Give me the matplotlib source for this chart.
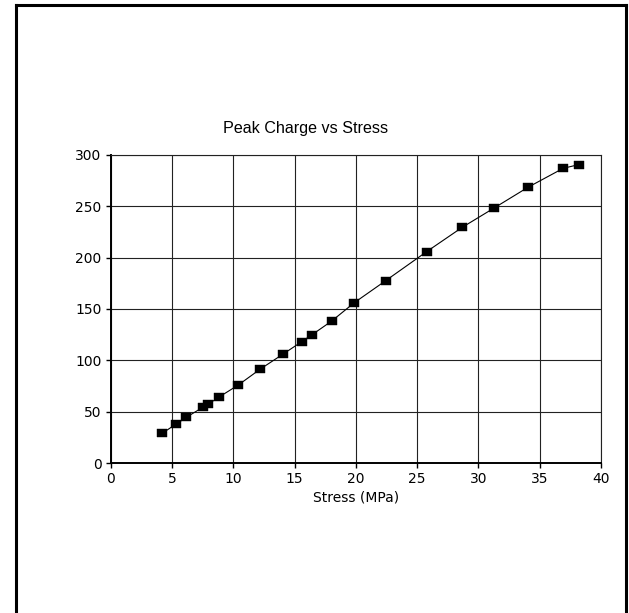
import numpy as np
import matplotlib.pyplot as plt
from matplotlib.lines import Line2D

# stress (MPa) vs peak charge
stress = [4.21, 5.30, 6.17, 7.55, 7.94, 8.81, 10.41, 12.18, 14.08, 15.58,
          16.39, 18.03, 19.87, 22.43, 25.77, 28.68, 31.24, 34.04, 36.92, 38.17]
charge = [29.2, 37.9, 44.7, 54.7, 57.3, 64.2, 76.1, 91.4, 106.3, 118.2,
          124.7, 138.3, 156.1, 177.5, 205.7, 229.4, 247.9, 268.3, 286.8, 290.3]

x_ticks = [0, 5, 10, 15, 20, 25, 30, 35, 40]
y_ticks = [0, 50, 100, 150, 200, 250, 300]

W, H = 629, 613
fig = plt.figure(figsize=(W / 100, H / 100), dpi=100)
ax = fig.add_axes([110.7 / W, 1 - 463.3 / H, (601 - 110.7) / W, (463.3 - 154.7) / H])

# flat rectangle marker, wider than tall
rect = [(-1, -0.8), (1, -0.8), (1, 0.8), (-1, 0.8), (-1, -0.8)]
ax.plot(stress, charge, color='black', lw=0.8, marker=rect, ms=6.6,
        mfc='black', mec='black', mew=0.3)

ax.set_xlim(0, 40)
ax.set_ylim(0, 300)
ax.set_xticks(x_ticks)
ax.set_yticks(y_ticks)
ax.grid(True, color='#222222', lw=0.8)
ax.set_axisbelow(True)

for side in ['top', 'right']:
    ax.spines[side].set_linewidth(0.8)
    ax.spines[side].set_color('#222222')
for side in ['left', 'bottom']:
    ax.spines[side].set_linewidth(1.4)

ax.tick_params(direction='out', length=3.5, width=1, pad=3,
               labelsize=10, colors='black')
for lab in ax.get_xticklabels() + ax.get_yticklabels():
    lab.set_family('DejaVu Sans')

ax.set_xlabel('Stress (MPa)', fontsize=10, labelpad=3, family='DejaVu Sans')
fig.text(306 / W, 1 - 133.5 / H, 'Peak Charge vs Stress', ha='center', va='baseline',
         fontsize=11.6, family='Liberation Sans')

# page frame on left, top and right
lw = 2.2
fig.add_artist(Line2D([15.5 / W, 15.5 / W], [0, 1 - 4.5 / H], color='black', lw=lw,
                      transform=fig.transFigure, solid_capstyle='projecting'))
fig.add_artist(Line2D([15.5 / W, 625.5 / W], [1 - 4.5 / H, 1 - 4.5 / H], color='black', lw=lw,
                      transform=fig.transFigure, solid_capstyle='projecting'))
fig.add_artist(Line2D([625.5 / W, 625.5 / W], [0, 1 - 4.5 / H], color='black', lw=lw,
                      transform=fig.transFigure, solid_capstyle='projecting'))

fig.savefig('out.png', dpi=100)
